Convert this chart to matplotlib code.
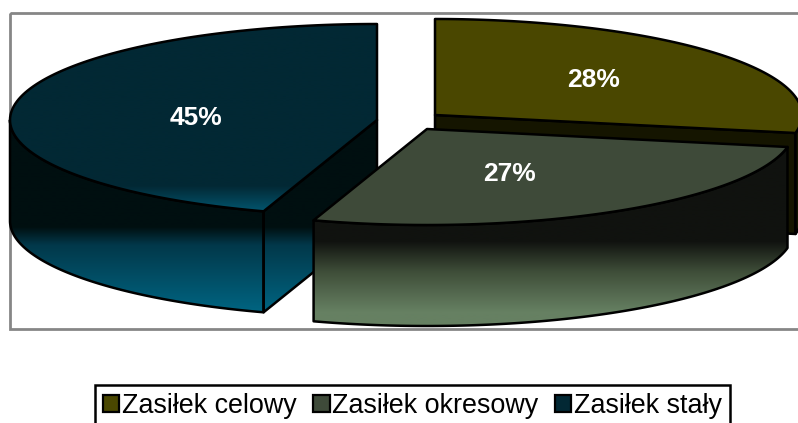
import numpy as np
import matplotlib
matplotlib.use('Agg')
import matplotlib.pyplot as plt
from matplotlib.colors import LinearSegmentedColormap
from matplotlib.patches import Polygon, Rectangle

plt.rcParams['font.family'] = ['Liberation Sans', 'DejaVu Sans']

# dane
categories = ['Zasiłek celowy', 'Zasiłek okresowy', 'Zasiłek stały']
shares = [28, 27, 45]
labels = ['28%', '27%', '45%']

# kolory
top_colors = ['#4a4700', '#3e4a39', '#022834']
olive_wall = '#151500'

# geometria w pikselach
W, H = 798, 423
RX, RY, DEPTH = 367, 96, 101


def arc(c, t0, t1, dy=0, n=120):
    # kat liczony od godziny 12, zgodnie ze wskazowkami
    t = np.radians(np.linspace(t0, t1, n))
    return np.column_stack([c[0] + RX * np.sin(t), c[1] - RY * np.cos(t) + dy])


def gradient_fill(ax, pts, stops, zorder):
    # pionowy gradient przyciety do wielokata
    ys = [s[0] for s in stops]
    y0, y1 = ys[0], ys[-1]
    cmap = LinearSegmentedColormap.from_list(
        'g', [((y - y0) / (y1 - y0), c) for y, c in stops])
    grad = np.linspace(0, 1, 256).reshape(-1, 1)
    im = ax.imshow(grad, cmap=cmap, extent=(0, W, y1, y0), origin='upper',
                   aspect='auto', zorder=zorder, interpolation='bilinear')
    clip = Polygon(pts, closed=True, transform=ax.transData)
    im.set_clip_path(clip)
    ax.add_patch(Polygon(pts, closed=True, fill=False, edgecolor='black',
                         linewidth=1.8, joinstyle='round', zorder=zorder + 0.5))


def flat(ax, pts, color, zorder):
    ax.add_patch(Polygon(pts, closed=True, facecolor=color, edgecolor='black',
                         linewidth=1.8, joinstyle='round', zorder=zorder))


fig = plt.figure(figsize=(W / 100, H / 100), dpi=100)
ax = fig.add_axes([0, 0, 1, 1])

# ramka obszaru wykresu
ax.add_patch(Rectangle((10, 13), W + 20, 316.5, fill=False, edgecolor='#868686',
                       linewidth=2, zorder=1))

# katy wycinkow z udzialow
ends = np.cumsum(shares) * 3.6
starts = np.concatenate([[0], ends[:-1]])

# wycinek 1 - celowy
c1 = (435, 115)
a = arc(c1, starts[0], ends[0])
wall = np.array([c1, a[-1], a[-1] + [0, DEPTH], (c1[0], c1[1] + DEPTH)])
flat(ax, wall, olive_wall, 2)
rim = np.vstack([arc(c1, 90, ends[0]), arc(c1, ends[0], 90, DEPTH)])
flat(ax, rim, olive_wall, 2)
flat(ax, np.vstack([[c1], a]), top_colors[0], 3)

# wycinek 3 - staly
c3 = (377, 120)
blue_side = [(120, '#000f10'), (227, '#000f10'), (245, '#02384a'), (320, '#006a88')]
a = arc(c3, starts[2], ends[2])
wall = np.array([c3, a[0], a[0] + [0, DEPTH], (c3[0], c3[1] + DEPTH)])
gradient_fill(ax, wall, blue_side, 4)
rim = np.vstack([arc(c3, starts[2], 270), arc(c3, 270, starts[2], DEPTH)])
gradient_fill(ax, rim, blue_side, 4)
blue_top = [(24, top_colors[2]), (186, top_colors[2]), (212, '#03566f')]
gradient_fill(ax, np.vstack([[c3], a]), blue_top, 5)

# wycinek 2 - okresowy
c2 = (427, 129)
green_side = [(140, '#10120f'), (241, '#10120f'), (272, '#3f4e39'), (312, '#668062'), (335, '#668062')]
a = arc(c2, starts[1], ends[1])
rim = np.vstack([a, a[::-1] + [0, DEPTH]])
gradient_fill(ax, rim, green_side, 6)
flat(ax, np.vstack([[c2], a]), top_colors[1], 7)

# etykiety
label_pos = [(594, 80), (510, 174), (196, 118)]
for (x, y), s in zip(label_pos, labels):
    ax.text(x, y, s, color='white', fontsize=19, fontweight='bold',
            ha='center', va='center', zorder=10)

# legenda
handles = [Rectangle((0, 0), 1, 1, facecolor=c, edgecolor='black', linewidth=1.6)
           for c in top_colors]
leg = ax.legend(handles, categories, ncol=3, loc='lower left',
                bbox_to_anchor=(95, 427), bbox_transform=ax.transData,
                fontsize=19.4, frameon=True, fancybox=False, framealpha=1,
                edgecolor='black', handlelength=0.6, handleheight=0.6,
                handletextpad=0.1, columnspacing=0.62, borderpad=0.3,
                borderaxespad=0)
leg.get_frame().set_linewidth(1.8)
leg.set_zorder(12)

ax.set_xlim(0, W)
ax.set_ylim(H, 0)
ax.axis('off')

fig.savefig('out.png', dpi=100)
